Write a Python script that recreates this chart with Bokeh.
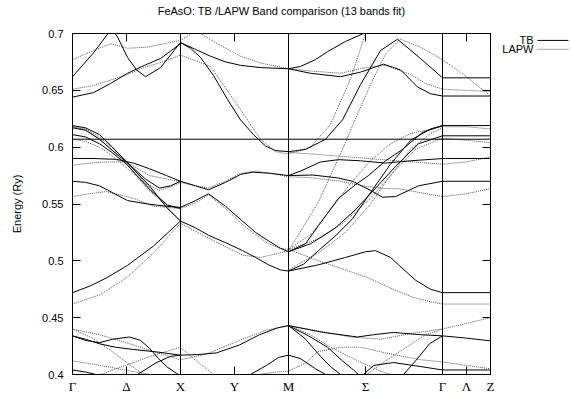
from bokeh.plotting import figure
from bokeh.models import (FixedTicker, LinearAxis, Span, Range1d, NumeralTickFormatter)
from bokeh.layouts import row
from bokeh.core.properties import value
from bokeh.embed import file_html
from bokeh.resources import INLINE

# ---------------- data ----------------
# k-path distance (arbitrary units), high-symmetry points
k_ticks = [0, 54, 108, 162, 216, 293, 370, 394, 418]
k_labels = ["Γ", "Δ", "X", "Y", "M", "Σ", "Γ", "Λ", "Z"]
sym_k = [108, 216, 370]
e_ticks = [0.4, 0.45, 0.5, 0.55, 0.6, 0.65, 0.7]
e_fermi = 0.607
legend_names = ["TB", "LAPW"]
title_text = "FeAsO: TB /LAPW Band comparison (13 bands fit)"

# TB bands (k, E in Ry)
tb_gamma_x = [
    [(0, .662), (21, .683), (33, .697), (39, .704), (45, .697), (55, .679), (64, .668), (73, .662), (88, .670), (108, .692)],
    [(0, .644), (21, .648), (38, .656), (55, .665), (72, .672), (88, .678), (108, .691)],
    [(0, .619), (13, .617), (27, .611), (40, .600), (54, .587), (77, .566), (94, .547), (108, .535)],
    [(0, .617), (13, .615), (27, .607), (40, .597), (54, .587), (73, .572), (87, .564), (98, .566), (108, .570)],
    [(0, .611), (13, .609), (27, .603), (40, .595), (54, .585), (78, .562), (95, .549), (108, .546)],
    [(0, .590), (22, .590), (44, .5893), (61, .586), (77, .581), (94, .575), (108, .570)],
    [(0, .570), (13, .569), (27, .566), (40, .560), (55, .553), (75, .550), (94, .548), (108, .547)],
    [(0, .472), (18, .478), (34, .485), (55, .496), (81, .513), (108, .535)],
    [(0, .434), (13, .431), (27, .427), (43, .424), (61, .422), (83, .420), (108, .417)],
    [(0, .434), (13, .430), (27, .428), (40, .431), (57, .433), (68, .430), (77, .423), (86, .414), (94, .407), (104, .401), (108, .399)],
    [(0, .404), (14, .402), (28, .399)],
    [(65, .400), (83, .410), (98, .416), (108, .417)],
]
tb_x_m = [
    [(108, .692), (118, .687), (128, .679), (141, .663), (155, .642), (168, .624), (181, .611), (193, .601), (203, .597), (216, .596)],
    [(108, .692), (123, .686), (138, .680), (153, .675), (168, .672), (188, .670), (216, .669)],
    [(108, .570), (123, .566), (136, .5625), (153, .569), (168, .576), (180, .578), (198, .577), (216, .575)],
    [(108, .547), (123, .553), (136, .559), (153, .548), (170, .535), (183, .525), (196, .5175), (208, .511), (216, .508)],
    [(108, .535), (123, .529), (136, .5225), (153, .516), (170, .509), (183, .503), (196, .4965), (208, .492), (216, .491)],
    [(108, .417), (125, .4175), (144, .419), (167, .426), (187, .435), (205, .441), (216, .443)],
    [(178, .400), (194, .408), (206, .415), (216, .417)],
]
tb_m_gamma = [
    [(216, .596), (233, .598), (253, .607), (270, .624), (288, .655), (308, .685), (325, .695), (348, .678), (370, .661)],
    [(216, .669), (238, .665), (268, .662), (288, .666), (311, .673), (328, .668), (345, .653), (358, .647), (370, .645)],
    [(216, .669), (228, .671), (243, .677), (255, .684), (273, .693), (291, .700), (303, .705)],
    [(216, .575), (228, .579), (248, .587), (266, .589), (288, .588), (313, .586), (338, .588), (370, .590)],
    [(216, .575), (240, .5755), (265, .573), (280, .570), (298, .562), (310, .556), (323, .5565), (346, .566), (370, .570)],
    [(216, .508), (233, .515), (246, .531), (266, .555), (283, .567), (296, .575), (313, .588), (330, .598), (350, .613), (370, .619)],
    [(216, .508), (238, .515), (263, .529), (283, .545), (300, .561), (323, .583), (346, .603), (370, .610)],
    [(216, .491), (231, .497), (246, .509), (263, .522), (280, .537), (298, .560), (318, .585), (338, .606), (358, .616), (370, .619)],
    [(216, .491), (246, .4965), (273, .503), (293, .508), (303, .509), (318, .503), (326, .4965), (343, .483), (358, .475), (370, .472)],
    [(216, .443), (251, .437), (285, .433), (301, .435), (321, .437), (348, .435), (370, .434)],
    [(216, .443), (232, .432), (248, .416), (258, .407), (268, .400)],
    [(216, .443), (236, .434), (255, .424), (270, .412), (281, .404), (286, .400)],
    [(216, .417), (228, .414), (243, .405), (253, .400)],
    [(291, .400), (301, .408), (321, .4105), (348, .407), (370, .404)],
    [(331, .400), (343, .412), (357, .427), (370, .434)],
]
tb_gamma_z = [
    [(370, .661), (418, .661)],
    [(370, .645), (418, .645)],
    [(370, .619), (418, .619)],
    [(370, .610), (418, .610)],
    [(370, .590), (418, .590)],
    [(370, .570), (418, .570)],
    [(370, .472), (418, .472)],
    [(370, .434), (394, .432), (418, .4296)],
    [(370, .404), (418, .404)],
]

# LAPW bands (k, E in Ry)
lapw_gamma_x = [
    [(0, .651), (20, .654), (38, .659), (55, .664), (71, .670), (90, .675), (108, .681)],
    [(0, .677), (21, .685), (38, .691), (55, .687), (75, .688), (108, .694)],
    [(108, .694), (125, .703)],
    [(0, .618), (13, .616), (27, .609), (40, .599), (54, .588), (75, .566), (92, .550), (108, .535)],
    [(0, .607), (13, .605), (27, .600), (40, .592), (54, .582), (73, .568), (87, .562), (98, .565), (108, .569)],
    [(0, .618), (13, .615), (27, .607), (40, .597), (54, .586), (75, .563), (92, .550), (108, .546)],
    [(0, .584), (17, .586), (34, .587), (54, .587), (77, .575), (108, .5695)],
    [(0, .5565), (17, .559), (34, .561), (61, .555), (81, .548), (108, .546)],
    [(0, .462), (27, .470), (54, .485), (81, .507), (108, .533)],
    [(0, .440), (27, .435), (61, .426), (85, .419), (108, .413)],
    [(0, .440), (20, .432), (40, .420), (55, .410), (71, .400)],
    [(0, .412), (28, .408), (58, .403), (78, .400)],
    [(28, .400), (53, .408), (78, .416), (108, .424)],
]
lapw_x_m = [
    [(108, .681), (138, .671), (153, .652), (168, .633), (188, .607), (203, .596), (216, .594)],
    [(128, .700), (143, .692), (168, .680), (188, .674), (216, .669)],
    [(108, .569), (123, .566), (136, .564), (153, .570), (168, .577), (183, .579), (198, .577), (216, .574)],
    [(108, .546), (123, .551), (136, .558), (153, .546), (170, .532), (183, .523), (196, .515), (208, .511), (216, .510)],
    [(108, .533), (136, .520), (170, .505), (188, .503), (203, .506), (216, .509)],
    [(108, .413), (134, .418), (167, .430), (194, .439), (216, .443)],
    [(108, .424), (121, .414), (134, .405), (141, .400)],
    [(187, .400), (203, .402), (216, .403)],
]
lapw_m_gamma = [
    [(216, .594), (238, .600), (258, .620), (278, .660), (293, .700)],
    [(216, .669), (238, .667), (268, .665), (293, .670), (313, .672), (338, .664), (353, .656), (370, .651)],
    [(216, .509), (231, .530), (246, .552), (258, .575), (270, .598), (283, .625), (298, .655), (313, .682), (328, .695), (348, .688), (370, .677)],
    [(216, .510), (238, .523), (258, .545), (278, .568), (298, .588), (318, .603), (338, .612), (370, .618)],
    [(216, .510), (248, .520), (273, .535), (298, .555), (323, .580), (343, .598), (370, .608)],
    [(216, .492), (246, .507), (273, .525), (298, .550), (318, .575), (338, .598), (358, .612), (370, .617)],
    [(216, .5955), (268, .592), (325, .588), (370, .585)],
    [(216, .574), (240, .573), (268, .570), (290, .566), (311, .5635), (325, .5635), (348, .560), (370, .5565)],
    [(216, .510), (246, .500), (273, .492), (296, .485), (318, .476), (340, .468), (358, .464), (370, .462)],
    [(216, .443), (248, .438), (278, .433), (308, .431), (338, .436), (370, .440)],
    [(216, .443), (238, .435), (258, .424), (283, .413), (308, .403), (318, .400)],
    [(294, .400), (313, .412), (334, .424), (353, .435), (370, .440)],
    [(216, .403), (233, .410), (245, .420), (268, .424), (288, .424), (318, .418), (348, .413), (370, .411)],
]
lapw_gamma_z = [
    [(370, .677), (394, .662), (418, .645)],
    [(370, .651), (394, .650), (418, .649)],
    [(370, .618), (394, .618), (418, .616)],
    [(370, .608), (394, .606), (418, .604)],
    [(370, .585), (394, .587), (418, .5915)],
    [(370, .5565), (394, .559), (418, .5635)],
    [(370, .462), (418, .462)],
    [(370, .440), (394, .445), (418, .450)],
    [(370, .411), (394, .408), (418, .405)],
]

TB_COLOR = "black"
LAPW_COLOR = "#555555"
LAPW_DASH = "1 1"
FONT = "Liberation Sans"

# ---------------- main figure ----------------
p = figure(width=496, height=396, x_range=Range1d(0, 418), y_range=Range1d(0.4, 0.7),
           output_backend="svg", toolbar_location=None,
           min_border_left=72, min_border_right=6, min_border_top=33, min_border_bottom=18)
p.title = None
p.grid.visible = False
p.outline_line_color = "black"
p.outline_line_width = 1
p.background_fill_color = "white"
p.border_fill_color = "white"


def split(bands):
    return [[pt[0] for pt in b] for b in bands], [[pt[1] for pt in b] for b in bands]


for group in (lapw_gamma_x, lapw_x_m, lapw_m_gamma, lapw_gamma_z):
    xs, ys = split(group)
    p.multi_line(xs, ys, line_color=LAPW_COLOR, line_width=1, line_dash=LAPW_DASH)
for group in (tb_gamma_x, tb_x_m, tb_m_gamma, tb_gamma_z):
    xs, ys = split(group)
    p.multi_line(xs, ys, line_color=TB_COLOR, line_width=1)

for k in sym_k:
    p.add_layout(Span(location=k, dimension="height", line_color="black", line_width=1))
p.add_layout(Span(location=e_fermi, dimension="width", line_color="black", line_width=1))

xa = p.xaxis[0]
xa.ticker = FixedTicker(ticks=k_ticks)
xa.major_label_overrides = {k: lab for k, lab in zip(k_ticks, k_labels)}
ya = p.yaxis[0]
ya.ticker = FixedTicker(ticks=e_ticks)
ya.formatter = NumeralTickFormatter(format="0.0[0]")
ya.axis_label = "Energy (Ry)"

for ax in (xa, ya):
    ax.major_tick_in = 8
    ax.major_tick_out = 0
    ax.minor_tick_line_color = None
    ax.axis_line_color = "black"
    ax.major_tick_line_color = "black"
    ax.major_label_text_color = "black"
xa.major_label_text_font = "Liberation Serif"
xa.major_label_text_font_size = "13px"
xa.major_label_standoff = 4
ya.major_label_text_font = FONT
ya.major_label_text_font_size = "11px"
ya.major_label_standoff = 9
ya.axis_label_text_font = FONT
ya.axis_label_text_font_size = "11px"
ya.axis_label_text_font_style = "normal"
ya.axis_label_text_color = "black"
ya.axis_label_standoff = 16

# mirrored tick marks (no labels) on the right and top borders; the top one carries the title
p.add_layout(LinearAxis(ticker=FixedTicker(ticks=[], minor_ticks=e_ticks),
                        minor_tick_in=8, minor_tick_out=0, major_tick_in=0, major_tick_out=0,
                        minor_tick_line_color="black", axis_line_color="black",
                        major_label_standoff=0), "right")
top = LinearAxis(ticker=FixedTicker(ticks=[], minor_ticks=k_ticks),
                 minor_tick_in=8, minor_tick_out=0, major_tick_in=0, major_tick_out=0,
                 minor_tick_line_color="black", axis_line_color="black",
                 major_label_standoff=0,
                 axis_label=title_text, axis_label_standoff=17,
                 axis_label_text_font=FONT, axis_label_text_font_size="11px",
                 axis_label_text_font_style="normal", axis_label_text_color="black")
p.add_layout(top, "above")

# ---------------- key (legend) panel ----------------
# its frame is aligned with the main frame (page rows 33..378), so use those as the range
q = figure(width=75, height=396, x_range=Range1d(0, 75), y_range=Range1d(378, 33),
           output_backend="svg", toolbar_location=None, min_border=0,
           x_axis_location=None, y_axis_location=None)
q.title = None
q.grid.visible = False
q.outline_line_color = None
q.background_fill_color = "white"
q.border_fill_color = "white"
q.text(x=[37, 37], y=[40, 49], text=legend_names, text_align="right", text_baseline="middle",
       text_font=value(FONT), text_font_size="11px", text_color="black")
q.line([41, 72], [40, 40], line_color=TB_COLOR, line_width=1)
q.line([41, 72], [49, 49], line_color=LAPW_COLOR, line_width=1, line_dash=LAPW_DASH)

layout = row(p, q)
open("out.html", "w").write(file_html(layout, INLINE))
